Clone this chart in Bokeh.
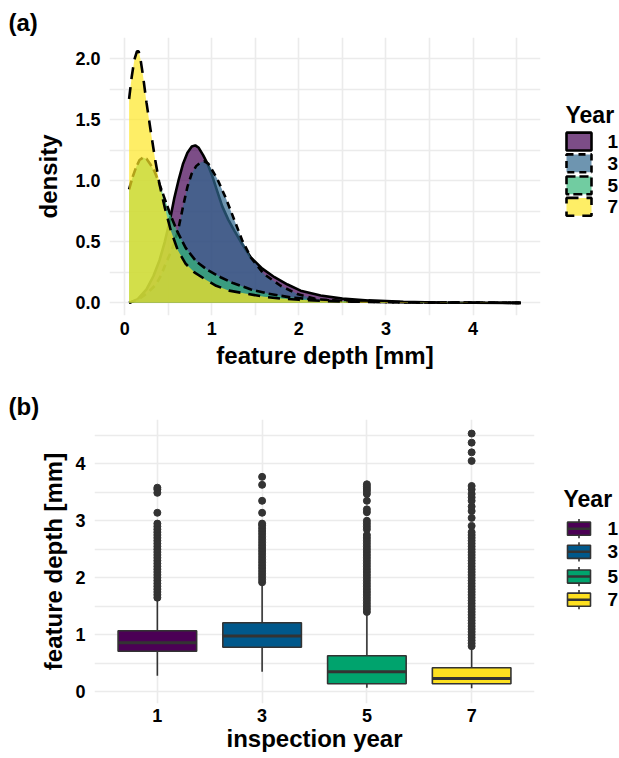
from bokeh.plotting import figure
from bokeh.models import Range1d, FixedTicker, NumeralTickFormatter
from bokeh.layouts import column, row
from bokeh.embed import file_html
from bokeh.resources import INLINE
from bokeh.core.properties import value

FONT = "Liberation Sans"

# ---------------- data ----------------
years = ["1", "3", "5", "7"]

# density curves (feature depth [mm] vs density), all evaluated over the common range 0.05 - 4.55
dens_x_1 = [0.05, 0.15, 0.25, 0.33, 0.40, 0.46, 0.52, 0.57, 0.62, 0.67, 0.72, 0.77, 0.81, 0.85, 0.90, 0.95,
            1.00, 1.06, 1.12, 1.19, 1.26, 1.35, 1.45, 1.58, 1.72, 1.87, 2.02, 2.25, 2.50, 2.80, 3.20, 3.58,
            4.00, 4.55]
dens_y_1 = [0.0, 0.03, 0.11, 0.22, 0.35, 0.50, 0.68, 0.86, 1.01, 1.14, 1.23, 1.28, 1.29, 1.27, 1.21, 1.14,
            1.05, 0.92, 0.79, 0.68, 0.59, 0.48, 0.37, 0.28, 0.21, 0.15, 0.10, 0.06, 0.035, 0.02, 0.008, 0.003,
            0.001, 0.0]

dens_x_3 = [0.05, 0.16, 0.26, 0.36, 0.42, 0.47, 0.52, 0.57, 0.62, 0.67, 0.72, 0.77, 0.82, 0.87, 0.91, 0.96,
            1.01, 1.06, 1.11, 1.16, 1.22, 1.28, 1.35, 1.45, 1.60, 1.79, 1.99, 2.21, 2.47, 2.80, 3.20, 3.78,
            4.20, 4.55]
dens_y_3 = [0.0, 0.03, 0.08, 0.15, 0.23, 0.32, 0.40, 0.49, 0.62, 0.79, 0.95, 1.06, 1.12, 1.15, 1.16, 1.14,
            1.08, 1.02, 0.94, 0.86, 0.75, 0.64, 0.51, 0.37, 0.235, 0.14, 0.07, 0.03, 0.015, 0.008, 0.004, 0.002,
            0.001, 0.0]

dens_x_5 = [0.05, 0.09, 0.13, 0.17, 0.21, 0.25, 0.29, 0.34, 0.39, 0.45, 0.52, 0.60, 0.70, 0.82, 0.95, 1.10,
            1.25, 1.45, 1.65, 1.90, 2.20, 2.50, 2.90, 3.30, 3.65, 4.10, 4.55]
dens_y_5 = [0.93, 1.03, 1.11, 1.17, 1.19, 1.18, 1.14, 1.08, 0.99, 0.87, 0.73, 0.59, 0.45, 0.34, 0.27, 0.21,
            0.16, 0.11, 0.075, 0.045, 0.025, 0.015, 0.008, 0.004, 0.002, 0.001, 0.0]

dens_x_7 = [0.05, 0.08, 0.11, 0.14, 0.16, 0.18, 0.21, 0.25, 0.30, 0.35, 0.40, 0.46, 0.53, 0.61, 0.70, 0.80,
            0.93, 1.05, 1.20, 1.40, 1.60, 1.80, 2.00, 2.30, 2.60, 3.00, 3.50, 4.00, 4.55]
dens_y_7 = [1.67, 1.85, 1.99, 2.06, 2.06, 2.00, 1.86, 1.64, 1.40, 1.17, 0.97, 0.78, 0.59, 0.43, 0.32, 0.25,
            0.19, 0.14, 0.10, 0.075, 0.05, 0.035, 0.025, 0.015, 0.01, 0.007, 0.004, 0.002, 0.0]

dens_x = [dens_x_1, dens_x_3, dens_x_5, dens_x_7]
dens_y = [dens_y_1, dens_y_3, dens_y_5, dens_y_7]

# box plot statistics per inspection year
whisker_low = [0.28, 0.35, 0.07, 0.06]
q1 = [0.71, 0.78, 0.14, 0.14]
median = [0.86, 0.98, 0.35, 0.23]
q3 = [1.07, 1.21, 0.63, 0.42]
whisker_high = [1.63, 1.89, 1.37, 0.78]

outliers_1 = [1.65, 1.70, 1.75, 1.80, 1.85, 1.90, 1.95, 2.00, 2.05, 2.10, 2.15, 2.20, 2.25, 2.30, 2.35,
              2.40, 2.45, 2.50, 2.55, 2.60, 2.65, 2.70, 2.75, 2.80, 2.85, 2.90, 2.95, 3.14, 3.49, 3.55, 3.58]
outliers_3 = [1.92, 1.97, 2.02, 2.07, 2.12, 2.17, 2.22, 2.27, 2.32, 2.37, 2.42, 2.47, 2.52, 2.57, 2.62,
              2.67, 2.72, 2.77, 2.82, 2.87, 2.92, 2.95, 3.14, 3.35, 3.63, 3.77]
outliers_5 = [1.40, 1.45, 1.50, 1.55, 1.60, 1.65, 1.70, 1.75, 1.80, 1.85, 1.90, 1.95, 2.00, 2.05, 2.10,
              2.15, 2.20, 2.25, 2.30, 2.35, 2.40, 2.45, 2.50, 2.55, 2.60, 2.65, 2.70, 2.75, 2.85, 2.90,
              2.95, 3.00, 3.15, 3.20, 3.35, 3.47, 3.52, 3.56, 3.60, 3.64]
outliers_7 = [0.80, 0.85, 0.90, 0.95, 1.00, 1.05, 1.10, 1.15, 1.20, 1.25, 1.30, 1.35, 1.40, 1.45, 1.50,
              1.55, 1.60, 1.65, 1.70, 1.75, 1.80, 1.85, 1.90, 1.95, 2.00, 2.05, 2.10, 2.15, 2.20, 2.25,
              2.30, 2.35, 2.40, 2.45, 2.50, 2.55, 2.60, 2.65, 2.70, 2.75, 2.80, 2.91, 3.05, 3.17, 3.25,
              3.35, 3.41, 3.47, 3.55, 3.61, 4.05, 4.20, 4.37, 4.53]
outliers = [outliers_1, outliers_3, outliers_5, outliers_7]

# tick labels
dens_xticks = [0, 1, 2, 3, 4]
dens_yticks = [0.0, 0.5, 1.0, 1.5, 2.0]
box_yticks = [0, 1, 2, 3, 4]

# ---------------- styles ----------------
dens_colors = ["#440154", "#31688E", "#35B779", "#FDE725"]
dens_dashes = ["solid", "7 5", "9 4", "12 8"]
box_colors = ["#4B0055", "#00588B", "#00A36D", "#FDE020"]
GRID = "#EBEBEB"
DARK = "#333333"


def style_axes(p):
    for ax in (p.xaxis[0], p.yaxis[0]):
        ax.axis_line_color = None
        ax.major_tick_line_color = None
        ax.minor_tick_line_color = None
        ax.major_tick_out = 0
        ax.major_tick_in = 0
        ax.minor_tick_out = 0
        ax.minor_tick_in = 0
        ax.major_label_text_font = FONT
        ax.major_label_text_font_style = "bold"
        ax.major_label_text_font_size = "18px"
        ax.major_label_text_color = "black"
        ax.axis_label_text_font = FONT
        ax.axis_label_text_font_style = "bold"
        ax.axis_label_text_font_size = "24px"
        ax.axis_label_text_color = "black"
    p.xgrid.grid_line_color = GRID
    p.ygrid.grid_line_color = GRID
    p.xgrid.grid_line_width = 1.6
    p.ygrid.grid_line_width = 1.6
    p.outline_line_color = None
    p.title.text_font = FONT
    p.title.text_font_style = "bold"
    p.title.text_font_size = "24px"
    p.title.text_color = "black"
    p.title.align = "left"
    p.title.standoff = 0


# ---------------- (a) density ----------------
pa_h = 390
pa = figure(width=545, height=pa_h, x_range=Range1d(-0.175, 4.775), y_range=Range1d(-0.1035, 2.1735),
            output_backend="svg", toolbar_location=None, title="(a)",
            min_border_left=109, min_border_right=5, min_border_top=37, min_border_bottom=75)
style_axes(pa)
pa.title.offset = -101
pa.title.standoff = 3
pa.xaxis.ticker = FixedTicker(ticks=dens_xticks, minor_ticks=[0.5, 1.5, 2.5, 3.5, 4.5])
pa.yaxis.ticker = FixedTicker(ticks=dens_yticks, minor_ticks=[0.25, 0.75, 1.25, 1.75])
pa.yaxis.formatter = NumeralTickFormatter(format="0.0")
pa.xgrid.minor_grid_line_color = GRID
pa.ygrid.minor_grid_line_color = GRID
pa.xgrid.minor_grid_line_width = 1.6
pa.ygrid.minor_grid_line_width = 1.6
pa.xaxis.axis_label = "feature depth [mm]"
pa.yaxis.axis_label = "density"
pa.xaxis.major_label_standoff = 6
pa.xaxis.axis_label_standoff = 4
pa.yaxis.major_label_standoff = 9
pa.yaxis.axis_label_standoff = 10

for xs, ys, col, dash in zip(dens_x, dens_y, dens_colors, dens_dashes):
    pa.varea(x=xs, y1=[0] * len(xs), y2=ys, fill_color=col, fill_alpha=0.7)
    pa.line(x=xs, y=ys, line_color="black", line_width=2.6, line_dash=dash)

# legend (a)
la = figure(width=74, height=pa_h, x_range=Range1d(0, 74), y_range=Range1d(pa_h, 0),
            output_backend="svg", toolbar_location=None, x_axis_type=None, y_axis_type=None,
            min_border=0)
la.grid.visible = False
la.outline_line_color = None
la_key_y = [146, 176.5, 207.5, 237.5]
for yy, col, dash in zip(la_key_y, dens_colors, dens_dashes):
    la.rect(x=[33.5], y=[yy], width=25, height=25, fill_color=col, fill_alpha=0.7,
            line_color="black", line_width=2.6, line_dash=dash)
la.text(x=[20], y=[109], text=["Year"], text_font=value(FONT), text_font_style="bold",
        text_font_size="23px", text_baseline="middle", text_align="left", text_color="black")
la.text(x=[62] * 4, y=la_key_y, text=years, text_font=value(FONT), text_font_style="bold",
        text_font_size="19px", text_baseline="middle", text_align="left", text_color="black")

# ---------------- (b) box plot ----------------
pos = [i + 1 for i in range(len(years))]
pb_h = 368
pb = figure(width=545, height=pb_h, x_range=Range1d(0.4, 4.6), y_range=Range1d(-0.2065, 4.7765),
            output_backend="svg", toolbar_location=None, title="(b)",
            min_border_left=94, min_border_right=11, min_border_top=29, min_border_bottom=55)
style_axes(pb)
pb.title.offset = -86
pb.xaxis.ticker = FixedTicker(ticks=pos)
pb.xaxis.major_label_overrides = {p_: y_ for p_, y_ in zip(pos, years)}
pb.yaxis.ticker = FixedTicker(ticks=box_yticks, minor_ticks=[0.5, 1.5, 2.5, 3.5, 4.5])
pb.ygrid.minor_grid_line_color = GRID
pb.ygrid.minor_grid_line_width = 1.6
pb.xaxis.axis_label = "inspection year"
pb.yaxis.axis_label = "feature depth [mm]"
pb.xaxis.major_label_standoff = 5
pb.xaxis.axis_label_standoff = 0
pb.yaxis.major_label_standoff = 9
pb.yaxis.axis_label_standoff = 5

half = 0.375
pb.segment(x0=pos, x1=pos, y0=whisker_low, y1=q1, line_color=DARK, line_width=1.6)
pb.segment(x0=pos, x1=pos, y0=q3, y1=whisker_high, line_color=DARK, line_width=1.6)
pb.vbar(x=pos, width=2 * half, bottom=q1, top=q3, fill_color=box_colors, line_color=DARK, line_width=1.6)
pb.segment(x0=[p_ - half for p_ in pos], x1=[p_ + half for p_ in pos], y0=median, y1=median,
           line_color=DARK, line_width=3)
ox, oy = [], []
for p_, vals in zip(pos, outliers):
    ox += [p_] * len(vals)
    oy += vals
pb.scatter(x=ox, y=oy, size=7, fill_color=DARK, line_color=DARK)

# legend (b)
lb = figure(width=74, height=pb_h, x_range=Range1d(0, 74), y_range=Range1d(pb_h, 0),
            output_backend="svg", toolbar_location=None, x_axis_type=None, y_axis_type=None,
            min_border=0)
lb.grid.visible = False
lb.outline_line_color = None
lb_key_y = [141.5, 171.5, 203.5, 233.5]
lb.segment(x0=[33.5] * 4, x1=[33.5] * 4, y0=[y - 12.5 for y in lb_key_y], y1=[y + 12.5 for y in lb_key_y],
           line_color=DARK, line_width=1.6)
lb.rect(x=[33.5] * 4, y=lb_key_y, width=23, height=17, fill_color=box_colors, line_color=DARK, line_width=1.6)
lb.segment(x0=[22] * 4, x1=[45] * 4, y0=lb_key_y, y1=lb_key_y, line_color=DARK, line_width=2.5)
lb.text(x=[18], y=[103], text=["Year"], text_font=value(FONT), text_font_style="bold",
        text_font_size="23px", text_baseline="middle", text_align="left", text_color="black")
lb.text(x=[62] * 4, y=lb_key_y, text=years, text_font=value(FONT), text_font_style="bold",
        text_font_size="19px", text_baseline="middle", text_align="left", text_color="black")

layout = column(row(pa, la), row(pb, lb))
open("out.html", "w").write(file_html(layout, INLINE))
